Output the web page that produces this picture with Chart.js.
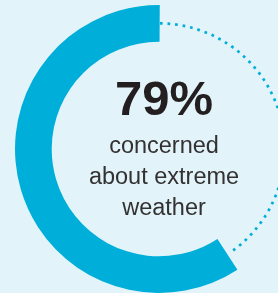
<!DOCTYPE html>
<html><head><meta charset="utf-8">
<script src="https://cdn.jsdelivr.net/npm/chart.js@4/dist/chart.umd.min.js"></script>
<style>
html,body{margin:0;padding:0;background:#E2F4F9;overflow:hidden;width:278px;height:293px}
#wrap{position:absolute;left:0;top:0;width:303px;height:293px}
</style></head><body>
<div id="wrap"><canvas id="c" width="303" height="293"></canvas></div>
<script>
const categories = ['Concerned about extreme weather', 'Not concerned'];
const values = [79, 21];
const headline = values[0] + '%';
const caption = ['concerned', 'about extreme', 'weather'];

const BLUE = '#00AEDA';
const BG = '#E2F4F9';

const dottedTrack = {
  id: 'dottedTrack',
  afterDatasetsDraw(chart) {
    const arc = chart.getDatasetMeta(0).data[0];
    const p = arc.getProps(['x','y','startAngle','endAngle','innerRadius','outerRadius'], true);
    const r = (p.innerRadius + p.outerRadius) / 2;
    const ctx = chart.ctx;
    ctx.save();
    ctx.strokeStyle = BLUE;
    ctx.lineWidth = 2.7;
    ctx.lineCap = 'butt';
    ctx.setLineDash([2.7, 4.9]);
    ctx.beginPath();
    ctx.arc(p.x, p.y, r, p.endAngle + 0.3 / r, p.startAngle + Math.PI * 2 - 2.5 / r);
    ctx.stroke();
    ctx.restore();
  }
};

const centerText = {
  id: 'centerText',
  afterDraw(chart) {
    const arc = chart.getDatasetMeta(0).data[0];
    const cx = arc.x + 5, cy = arc.y;
    const ctx = chart.ctx;
    ctx.save();
    ctx.textAlign = 'center';
    ctx.textBaseline = 'alphabetic';
    ctx.fillStyle = '#231F20';
    ctx.font = 'bold 49px "Liberation Sans", Arial, sans-serif';
    ctx.fillText(headline, cx, cy - 34);
    ctx.fillStyle = '#333132';
    ctx.font = '23.5px "Liberation Sans", Arial, sans-serif';
    const base = [cy + 3.5, cy + 35, cy + 66];
    caption.forEach((t, i) => ctx.fillText(t, cx, base[i]));
    ctx.restore();
  }
};

new Chart(document.getElementById('c'), {
  type: 'doughnut',
  data: {
    labels: categories,
    datasets: [
      {
        data: values,
        backgroundColor: [BLUE, 'rgba(0,0,0,0)'],
        borderWidth: 0,
        hoverOffset: 0,
        rotation: 147,
        circumference: 270
      },
      {
        data: [1],
        weight: 0,
        backgroundColor: ['rgba(0,0,0,0)'],
        borderWidth: 0,
        hoverOffset: 0,
        rotation: 0,
        circumference: 360
      }
    ]
  },
  options: {
    responsive: false,
    animation: false,
    events: [],
    cutout: '74.5%',
    layout: { padding: { left: 15, top: 5, right: 0, bottom: 0 } },
    plugins: { legend: { display: false }, tooltip: { enabled: false } }
  },
  plugins: [dottedTrack, centerText]
});
</script>
</body></html>
